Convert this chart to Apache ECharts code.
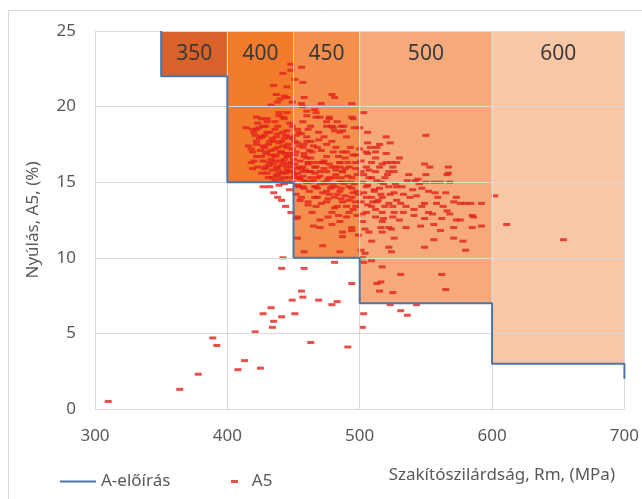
<!DOCTYPE html>
<html>
<head>
<meta charset="utf-8">
<script src="https://cdn.jsdelivr.net/npm/echarts@6/dist/echarts.min.js"></script>
<style>
  html, body { margin: 0; padding: 0; background: #fff; }
  #chart { width: 642px; height: 499px; }
</style>
</head>
<body>
<div id="chart"></div>
<script>
// axis ranges
const rmMin = 300, rmMax = 700, rmStep = 100
const a5Min = 0, a5Max = 25, a5Step = 5

// strength classes (shaded zones) and the A-előírás limit
const zoneStarts = [350, 400, 450, 500, 600]
const zoneEnds = [400, 450, 500, 600, 700]
const zoneFloors = [22, 15, 10, 7, 3]
const zoneLabels = ['350', '400', '450', '500', '600']

const limitLine = [
  [350, 25], [350, 22], [400, 22], [400, 15], [450, 15], [450, 10],
  [500, 10], [500, 7], [600, 7], [600, 3], [700, 3], [700, 2]
]

// measured A5 [Rm, A5]
const a5Points = [
  // lower tail
  [310, 0.5], [364, 1.3], [378, 2.3], [389, 4.7], [392, 4.2], [408, 2.6], [413, 3.2], [425, 2.7],
  [421, 5.1], [427, 6.3], [433, 6.7], [435, 5.8], [434, 5.4], [441, 6.1], [451, 6.3], [449, 7.2],
  [456, 7.8], [457, 7.4], [463, 4.4], [469, 7.2], [483, 7.1], [479, 6.9], [491, 4.1], [442, 10.0],
  [441, 9.3], [458, 9.3], [481, 9.7], [494, 8.3], [503, 6.3], [502, 5.4], [523, 6.9], [531, 6.5],
  [536, 6.2], [543, 6.9], [515, 7.8], [525, 7.7], [513, 8.3], [516, 8.4], [531, 8.9], [562, 8.9],
  [565, 7.9], [517, 9.4], [509, 9.8], [503, 9.7], [502, 10.0], [504, 10.3], [501, 10.5], [524, 10.4],
  [580, 10.5], [485, 10.4], [458, 10.4],
  // 10.5 - 13
  [453, 11.3], [472, 10.8], [452, 12.6], [444, 13.4], [441, 13.8], [448, 13.0], [453, 12.7],
  [507, 11.7], [509, 11.1], [526, 11.3], [556, 11.2], [571, 11.3], [549, 10.7], [522, 10.7],
  [516, 12.0], [524, 11.9], [535, 12.0], [546, 12.1], [556, 12.2], [561, 11.8], [571, 12.0],
  [518, 12.6], [530, 12.5], [549, 12.6], [562, 12.6], [573, 12.5],
  // right side
  [602, 14.1], [611, 12.2], [654, 11.2], [592, 13.6], [580, 13.6], [576, 13.6], [585, 12.8],
  [586, 12.7], [576, 12.5], [585, 12.0], [592, 12.1], [578, 11.1], [584, 13.6], [567, 15.6],
  [524, 16.3], [549, 16.2], [553, 16.0], [567, 16.0], [537, 15.5], [550, 15.5], [566, 15.5],
  [526, 15.7], [536, 15.1], [542, 15.1], [550, 15.0], [556, 15.0], [568, 15.0], [561, 15.0],
  [545, 14.9], [527, 14.9], [518, 14.9], [540, 14.5], [547, 14.6], [557, 14.3], [565, 14.3],
  [573, 14.0], [543, 14.1], [533, 14.2], [526, 14.3], [516, 14.2], [509, 14.0], [522, 13.6],
  [531, 13.6], [549, 13.6], [558, 13.6], [571, 13.7], [541, 13.2], [552, 13.0], [566, 13.1],
  [533, 13.0], [526, 13.0], [490, 17.0], [495, 16.8], [500, 17.2], [506, 16.9], [512, 16.6],
  [517, 16.2], [520, 16.9], [530, 16.6],
  // upper part
  [448, 22.8], [456, 22.6], [448, 22.4], [442, 22.2], [451, 21.8], [457, 21.6], [435, 21.4],
  [445, 21.3], [437, 20.8], [443, 20.7], [445, 20.6], [440, 20.5], [458, 20.6], [481, 20.6],
  [471, 20.2], [449, 20.3], [456, 20.2], [457, 20.0], [433, 20.1], [438, 20.3], [466, 19.8],
  [460, 19.4], [467, 19.3], [477, 19.2], [430, 19.2], [439, 19.4], [443, 19.2], [423, 18.9],
  [447, 18.9], [475, 18.7], [486, 18.7], [419, 18.5], [453, 18.5], [481, 18.4], [479, 20.8],
  [494, 19.3], [480, 18.6], [487, 18.4], [494, 20.2], [503, 19.6], [495, 19.2], [496, 18.6],
  [500, 18.6], [506, 18.3], [520, 18.0], [550, 18.1], [523, 17.6], [515, 17.5], [513, 17.3],
  [506, 17.6], [508, 17.3], [512, 17.0], [505, 17.0], [426, 19.2], [414, 18.6], [422, 18.5],
  [426, 18.0], [416, 17.4], [418, 16.3], [422, 16.7], [429, 16.0],
  // dense core, 415 - 490
  [439, 19.6], [445, 19.6], [460, 19.7], [467, 19.6], [422, 19.3], [442, 19.3], [470, 19.3],
  [477, 19.3], [430, 19.0], [436, 19.0], [457, 19.0], [475, 19.0], [483, 19.0], [427, 18.7],
  [438, 18.7], [449, 18.7], [463, 18.7], [479, 18.7], [488, 18.7], [420, 18.3], [432, 18.3],
  [442, 18.3], [454, 18.3], [469, 18.3], [485, 18.3], [426, 18.0], [437, 18.0], [447, 18.0],
  [460, 18.0], [473, 18.0], [490, 18.0], [422, 17.7], [432, 17.7], [441, 17.7], [451, 17.7],
  [463, 17.7], [479, 17.7], [428, 17.3], [438, 17.3], [445, 17.3], [457, 17.3], [468, 17.3],
  [482, 17.3], [419, 17.0], [430, 17.0], [441, 17.0], [452, 17.0], [464, 17.0], [487, 17.0],
  [426, 16.7], [436, 16.7], [445, 16.7], [458, 16.7], [475, 16.7], [432, 16.3], [442, 16.3],
  [448, 16.3], [461, 16.3], [472, 16.3], [485, 16.3], [437, 16.0], [445, 16.0], [454, 16.0],
  [466, 16.0], [481, 16.0], [439, 15.7], [447, 15.7], [457, 15.7], [470, 15.7], [487, 15.7],
  [434, 15.3], [443, 15.3], [452, 15.3], [463, 15.3], [477, 15.3], [442, 15.0], [449, 15.0],
  [460, 15.0], [475, 15.0], [485, 15.0], [427, 14.7], [432, 14.7], [454, 14.7], [467, 14.7],
  [482, 14.7], [435, 14.3], [438, 14.0], [443, 14.9], [447, 14.5], [439, 14.8],
  [424, 17.9], [428, 18.1], [431, 17.5], [434, 17.9], [436, 17.2], [439, 17.6], [443, 17.9],
  [446, 17.5], [449, 17.2], [425, 17.1], [429, 16.9], [433, 16.5], [437, 16.8], [440, 16.4],
  [443, 16.9], [446, 16.7], [450, 16.5], [427, 16.4], [431, 16.1], [435, 16.2], [438, 15.9],
  [441, 16.1], [445, 15.8], [448, 16.0], [452, 15.9], [430, 15.6], [434, 15.8], [437, 15.5],
  [440, 15.2], [444, 15.6], [447, 15.3], [451, 15.5], [455, 15.2], [436, 15.1], [446, 15.0],
  [453, 14.8], [457, 15.4], [459, 15.8], [461, 16.2], [455, 16.4], [458, 16.9], [462, 17.1],
  [454, 17.4], [460, 17.7], [452, 18.1], [445, 18.4], [436, 18.5], [429, 18.7], [422, 17.5],
  [418, 17.2], [420, 16.4], [423, 16.0], [426, 15.6], [419, 15.9],
  [421, 18.1], [424, 18.6], [427, 17.4], [430, 18.3], [433, 17.1], [435, 17.7], [438, 18.2],
  [440, 17.0], [442, 17.4], [444, 18.1], [447, 16.9], [449, 17.9], [451, 16.8], [453, 17.6],
  [456, 18.2], [458, 17.5], [461, 18.5], [463, 16.6], [465, 17.4], [467, 16.3], [469, 17.8],
  [471, 17.1], [473, 15.9], [475, 17.5], [477, 16.2], [480, 17.0], [482, 15.8], [484, 16.7],
  [486, 15.3], [489, 15.9], [491, 16.3], [493, 15.0], [496, 14.9], [498, 15.5],
  [428, 15.9], [431, 15.3], [433, 16.8], [436, 16.4], [438, 15.4], [441, 15.6], [443, 16.5],
  [446, 16.2], [449, 15.7], [451, 16.2], [453, 15.6], [456, 15.9], [458, 15.1], [460, 16.6],
  [463, 15.7], [465, 15.1], [468, 14.6], [470, 15.4], [472, 14.3], [474, 14.9], [477, 14.2],
  [480, 14.9], [483, 14.2], [486, 14.6], [489, 14.1], [492, 13.8], [495, 14.3], [497, 13.7],
  // 450 - 530 band
  [462, 16.3], [472, 16.3], [485, 16.3], [497, 16.3], [509, 16.3], [520, 16.3], [528, 16.3],
  [457, 16.0], [467, 16.0], [479, 16.0], [492, 16.0], [505, 16.0], [515, 16.0], [525, 16.0],
  [462, 15.7], [475, 15.7], [487, 15.7], [501, 15.7], [512, 15.7], [522, 15.7],
  [454, 15.3], [468, 15.3], [481, 15.3], [494, 15.3], [507, 15.3], [519, 15.3],
  [460, 15.0], [473, 15.0], [487, 15.0], [502, 15.0], [516, 15.0],
  [457, 14.7], [466, 14.7], [479, 14.7], [492, 14.7], [505, 14.7], [522, 14.7], [528, 14.7],
  [462, 14.4], [475, 14.4], [485, 14.4], [498, 14.4], [511, 14.4],
  [456, 14.0], [468, 14.0], [481, 14.0], [494, 14.0], [505, 14.0], [517, 14.0],
  [461, 13.7], [475, 13.7], [487, 13.7], [501, 13.7], [513, 13.7],
  [467, 13.4], [483, 13.4], [497, 13.4], [509, 13.4], [525, 13.4],
  [464, 13.0], [479, 13.0], [492, 13.0], [505, 13.0], [517, 13.0],
  [476, 12.7], [490, 12.7], [512, 12.7], [525, 12.7],
  [485, 12.4], [502, 12.4], [517, 12.4], [470, 12.0], [494, 12.0], [522, 12.0],
  [487, 11.7], [479, 12.2], [487, 11.4], [494, 11.8], [517, 11.7],
  [452, 14.2], [455, 13.8], [458, 14.6], [463, 15.0], [466, 15.6], [470, 14.9], [473, 16.4],
  [476, 15.2], [478, 14.6], [482, 15.5], [485, 16.0], [488, 14.9], [491, 15.4], [494, 14.6],
  [497, 15.9], [499, 14.2], [466, 14.0], [471, 13.6], [476, 13.9], [481, 13.3], [486, 13.9],
  [490, 13.4], [495, 13.2], [498, 12.8], [489, 16.6], [493, 17.3], [497, 16.8], [501, 16.4],
  [503, 15.5], [506, 14.8], [509, 15.3], [511, 14.5], [514, 13.8], [512, 13.2], [506, 13.5],
  [502, 12.9], [499, 11.5], [504, 11.9], [484, 12.8], [470, 12.5], [465, 12.1], [461, 13.5],
  [503, 14.3], [507, 15.8], [510, 13.7], [513, 15.1], [515, 14.6], [519, 13.4], [521, 15.5],
  [523, 14.2], [528, 13.8], [532, 14.7], [535, 13.4], [538, 14.0], [541, 12.8], [544, 15.2],
  [547, 13.4], [552, 14.4], [555, 12.9], [559, 14.0], [563, 13.4], [568, 12.9]
]

const zoneColors = ['#D9622B', '#F27B2C', '#F48F4E', '#F6A97A', '#F9C7A6']
const textColor = '#595959'
const font = '"Noto Sans", sans-serif'

const chart = echarts.init(document.getElementById('chart'))

chart.setOption({
  animation: false,
  grid: { left: 95, right: 16, top: 31, bottom: 90 },
  graphic: [
    {
      type: 'rect',
      shape: { x: 8.5, y: 10.5, width: 640, height: 500 },
      style: { fill: 'none', stroke: '#D9D9D9', lineWidth: 1 },
      silent: true
    },
    {
      type: 'text',
      right: 27,
      top: 467,
      style: { text: 'Szakítószilárdság, Rm, (MPa)', fill: textColor, font: '17px ' + font }
    }
  ],
  legend: [
    {
      data: [{ name: 'A-előírás', icon: 'rect' }],
      left: 60,
      top: 473,
      padding: 0,
      itemWidth: 36,
      itemHeight: 2,
      textStyle: { color: textColor, fontSize: 17, fontFamily: font }
    },
    {
      data: ['A5'],
      left: 231,
      top: 473,
      padding: 0,
      itemWidth: 7,
      itemHeight: 3,
      formatter: '  {name}',
      textStyle: { color: textColor, fontSize: 17, fontFamily: font }
    }
  ],
  xAxis: {
    type: 'value',
    min: rmMin,
    max: rmMax,
    interval: rmStep,
    z: 3,
    axisLine: { show: false },
    axisTick: { show: false },
    axisLabel: { color: textColor, fontSize: 17, fontFamily: font, margin: 19 },
    splitLine: { lineStyle: { color: '#D9D9D9', width: 1 } }
  },
  yAxis: {
    type: 'value',
    min: a5Min,
    max: a5Max,
    interval: a5Step,
    z: 3,
    name: 'Nyúlás, A5, (%)',
    nameLocation: 'middle',
    nameGap: 53,
    nameTextStyle: { color: textColor, fontSize: 17, fontFamily: font },
    axisLine: { show: false },
    axisTick: { show: false },
    axisLabel: { color: textColor, fontSize: 17, fontFamily: font, margin: 19 },
    splitLine: { lineStyle: { color: '#D9D9D9', width: 1 } }
  },
  series: [
    {
      name: 'zones',
      type: 'custom',
      z: 1,
      silent: true,
      encode: { x: [0, 1], y: 2 },
      data: zoneStarts.map((s, i) => [s, zoneEnds[i], zoneFloors[i]]),
      renderItem(params, api) {
        const tl = api.coord([api.value(0), a5Max])
        const br = api.coord([api.value(1), api.value(2)])
        const lp = api.coord([(api.value(0) + api.value(1)) / 2, 23.5])
        return {
          type: 'group',
          children: [
            {
              type: 'rect',
              shape: { x: tl[0], y: tl[1], width: br[0] - tl[0], height: br[1] - tl[1] },
              style: { fill: zoneColors[params.dataIndex] }
            },
            {
              type: 'text',
              style: {
                text: zoneLabels[params.dataIndex],
                x: lp[0],
                y: lp[1],
                align: 'center',
                verticalAlign: 'middle',
                fill: '#3A3A3A',
                font: '21px ' + font
              }
            }
          ]
        }
      }
    },
    {
      name: 'A5',
      type: 'scatter',
      z: 2,
      symbol: 'rect',
      symbolSize: [7, 3],
      itemStyle: { color: '#E2231C' },
      data: a5Points
    },
    {
      name: 'zone edges',
      type: 'custom',
      z: 4,
      silent: true,
      encode: { x: 0, y: 1 },
      data: zoneStarts.map((s, i) => [s, zoneFloors[i]]),
      renderItem(params, api) {
        const p0 = api.coord([api.value(0), api.value(1)])
        const p1 = api.coord([api.value(0), a5Max])
        return {
          type: 'line',
          shape: { x1: p0[0], y1: p0[1], x2: p1[0], y2: p1[1] },
          style: { stroke: '#E4DDD8', lineWidth: 1 }
        }
      }
    },
    {
      name: 'A-előírás',
      type: 'line',
      z: 5,
      symbol: 'none',
      lineStyle: { color: '#4E74A6', width: 2 },
      itemStyle: { color: '#4E74A6' },
      data: limitLine
    }
  ]
})
</script>
</body>
</html>
